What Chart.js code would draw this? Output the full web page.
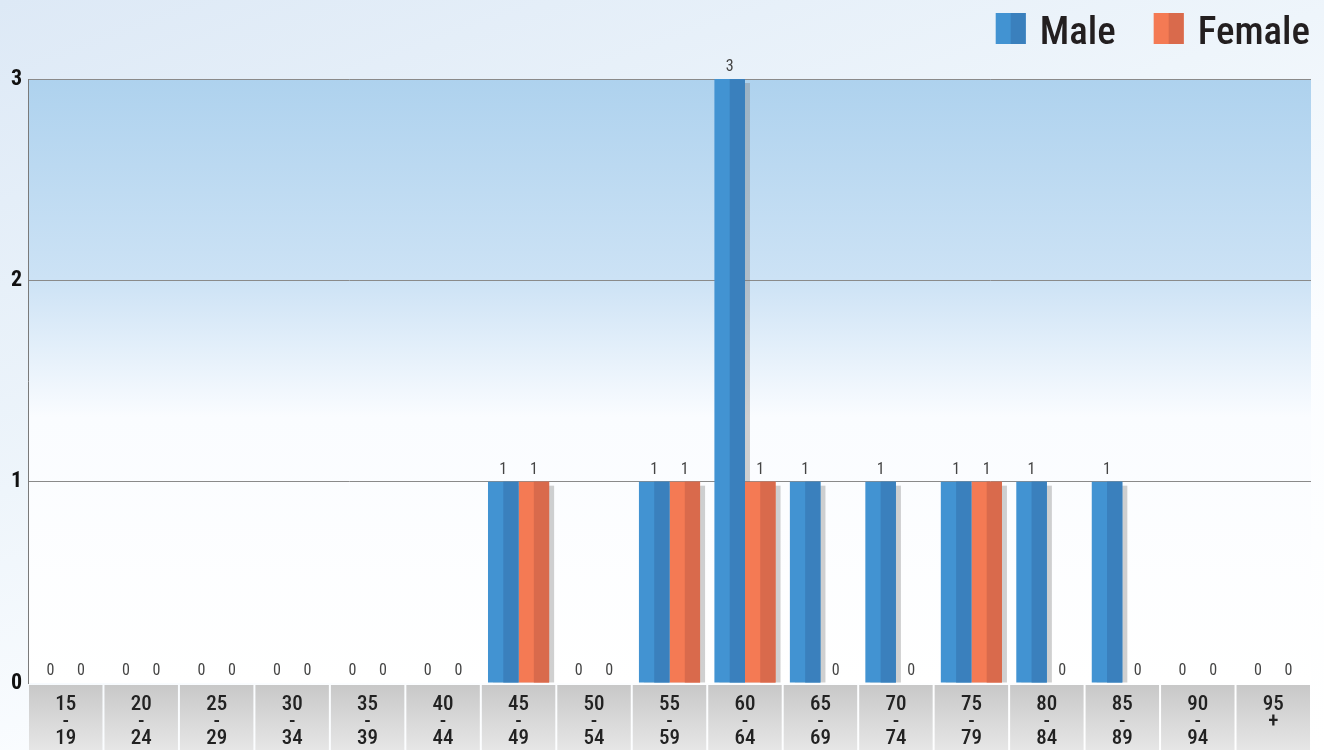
<!DOCTYPE html>
<html>
<head>
<meta charset="utf-8">
<script src="https://cdn.jsdelivr.net/npm/chart.js@4.4.1/dist/chart.umd.min.js"></script>
<style>
  html, body { margin: 0; padding: 0; }
  body {
    width: 1324px; height: 750px; overflow: hidden;
    background: linear-gradient(160deg, #dde9f6 0%, #eef5fb 40%, #fbfdff 65%, #ffffff 100%);
  }
  canvas { display: block; }
</style>
</head>
<body>
<canvas id="ageChart" width="1324" height="750"></canvas>
<script>
// age groups, each split over three lines like the original
var ageGroups = [
  ['15', '-', '19'], ['20', '-', '24'], ['25', '-', '29'], ['30', '-', '34'],
  ['35', '-', '39'], ['40', '-', '44'], ['45', '-', '49'], ['50', '-', '54'],
  ['55', '-', '59'], ['60', '-', '64'], ['65', '-', '69'], ['70', '-', '74'],
  ['75', '-', '79'], ['80', '-', '84'], ['85', '-', '89'], ['90', '-', '94'],
  ['95', '+']
];
var maleCounts   = [0, 0, 0, 0, 0, 0, 1, 0, 1, 3, 1, 1, 1, 1, 1, 0, 0];
var femaleCounts = [0, 0, 0, 0, 0, 0, 1, 0, 1, 1, 0, 0, 1, 0, 0, 0, 0];
var yTicks = [0, 1, 2, 3];

var FONT = "'Liberation Sans Narrow', 'Roboto Condensed', 'DejaVu Sans Condensed', sans-serif";

// light / dark halves of each bar
var shades = {
  Male:   { light: '#4293d2', dark: '#3a80bd' },
  Female: { light: '#f47a54', dark: '#d96a4c' }
};

// background, label boxes, bar shadows, dark halves, value labels, legend
var decor = {
  id: 'decor',
  beforeDraw: function(chart) {
    var ctx = chart.ctx, a = chart.chartArea;
    ctx.save();
    var g = ctx.createLinearGradient(0, a.top, 0, a.bottom);
    g.addColorStop(0, 'rgb(174,210,238)');
    g.addColorStop(0.33, 'rgb(204,226,245)');
    g.addColorStop(0.56, 'rgba(250,252,255,1)');
    g.addColorStop(1, 'rgba(255,255,255,1)');
    ctx.fillStyle = g;
    ctx.fillRect(a.left, a.top, a.right - a.left, a.bottom - a.top);

    // grey boxes behind the category labels
    var xs = chart.scales.x;
    var w = (xs.right - xs.left) / ageGroups.length;
    var top = a.bottom + 2;
    var bg = ctx.createLinearGradient(0, top, 0, chart.height);
    bg.addColorStop(0, '#c8c8c8');
    bg.addColorStop(1, '#e6e6e6');
    ctx.fillStyle = bg;
    for (var i = 0; i < ageGroups.length; i++) {
      ctx.fillRect(xs.left + i * w + 1, top, w - 2, chart.height - top);
    }
    ctx.restore();
  },
  beforeDatasetsDraw: function(chart) {
    var ctx = chart.ctx;
    ctx.save();
    ctx.fillStyle = 'rgba(120,120,120,0.35)';
    chart.data.datasets.forEach(function(ds, di) {
      chart.getDatasetMeta(di).data.forEach(function(el, i) {
        if (!ds.data[i]) return;
        ctx.fillRect(el.x - el.width / 2 + 5, el.y + 4, el.width, el.base - el.y - 4);
      });
    });
    ctx.restore();
  },
  afterDatasetsDraw: function(chart) {
    var ctx = chart.ctx;
    ctx.save();
    chart.data.datasets.forEach(function(ds, di) {
      chart.getDatasetMeta(di).data.forEach(function(el, i) {
        if (ds.data[i]) {
          ctx.fillStyle = shades[ds.label].dark;
          ctx.fillRect(el.x, el.y, el.width / 2, el.base - el.y);
        }
        ctx.fillStyle = '#444';
        ctx.font = '16px ' + FONT;
        ctx.textAlign = 'center';
        ctx.textBaseline = 'middle';
        ctx.fillText(String(ds.data[i]), el.x, el.y - 12);
      });
    });
    ctx.restore();
  },
  afterDraw: function(chart) {
    var ctx = chart.ctx;
    ctx.save();
    ctx.font = '500 39px ' + FONT;
    ctx.textBaseline = 'alphabetic';
    ctx.textAlign = 'left';
    var right = chart.width - 14;
    var sets = chart.data.datasets.slice().reverse();
    sets.forEach(function(ds) {
      var tw = ctx.measureText(ds.label).width;
      var tx = right - tw;
      var bx = tx - 14 - 30;
      ctx.fillStyle = shades[ds.label].light;
      ctx.fillRect(bx, 13, 30, 31);
      ctx.fillStyle = shades[ds.label].dark;
      ctx.fillRect(bx + 15, 13, 15, 31);
      ctx.fillStyle = '#231f20';
      ctx.fillText(ds.label, tx, 44);
      right = bx - 38;
    });
    ctx.restore();
  }
};

var data = {
  labels: ageGroups,
  datasets: [
    { label: 'Male', data: maleCounts, backgroundColor: shades.Male.light },
    { label: 'Female', data: femaleCounts, backgroundColor: shades.Female.light }
  ]
};

var config = {
  type: 'bar',
  data: data,
  options: {
    responsive: false,
    animation: false,
    layout: { padding: { left: 0, right: 13, top: 79, bottom: 0 } },
    datasets: {
      bar: { barPercentage: 1, categoryPercentage: 0.81, borderWidth: 0 }
    },
    plugins: {
      legend: { display: false },
      tooltip: { enabled: false }
    },
    scales: {
      x: {
        grid: { display: false, drawTicks: false },
        border: { display: false },
        ticks: {
          autoSkip: false, maxRotation: 0, padding: 13, color: '#222',
          font: { family: FONT, size: 21, weight: '500', lineHeight: 0.82 }
        },
        afterFit: function(s) { s.height = 67; }
      },
      y: {
        min: 0, max: 3,
        afterFit: function(s) { s.width = 28; },
        afterBuildTicks: function(s) {
          s.ticks = yTicks.map(function(v) { return { value: v }; });
        },
        grid: {
          drawTicks: false,
          color: function(c) { return c.tick && c.tick.value === 0 ? 'rgba(0,0,0,0)' : '#8a8a8a'; }
        },
        border: { color: '#7a7a7a' },
        ticks: {
          padding: 6, color: '#111',
          font: { family: FONT, size: 22, weight: 'bold' }
        }
      }
    }
  },
  plugins: [decor]
};

var ageChart = new Chart(document.getElementById('ageChart'), config);
</script>
</body>
</html>
